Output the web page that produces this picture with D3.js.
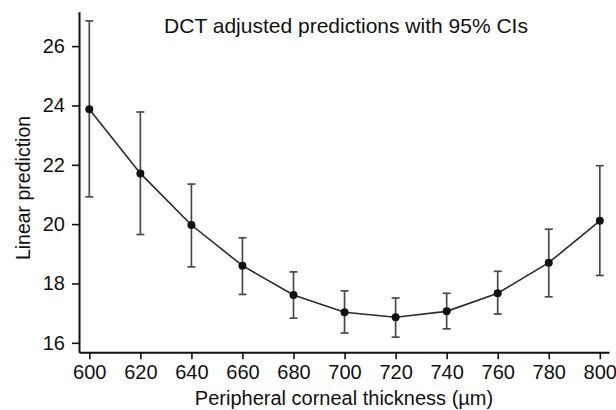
<!DOCTYPE html>
<html>
<head>
<meta charset="utf-8">
<script src="https://cdn.jsdelivr.net/npm/d3@7"></script>
<style>
html,body{margin:0;padding:0;background:#fff;}
svg{display:block;}
text{font-family:"Liberation Sans",Arial,sans-serif;fill:#111;}
</style>
</head>
<body>
<svg id="chart" width="616" height="410"></svg>
<script>
const thickness = [600, 620, 640, 660, 680, 700, 720, 740, 760, 780, 800];
const prediction = [23.87, 21.71, 19.97, 18.60, 17.61, 17.03, 16.86, 17.06, 17.67, 18.70, 20.11];
const ciLower = [20.92, 19.65, 18.56, 17.63, 16.83, 16.33, 16.19, 16.47, 16.97, 17.55, 18.27];
const ciUpper = [26.85, 23.78, 21.35, 19.54, 18.39, 17.75, 17.51, 17.67, 18.41, 19.83, 21.97];
const xTicks = [600, 620, 640, 660, 680, 700, 720, 740, 760, 780, 800];
const yTicks = [16, 18, 20, 22, 24, 26];
const titleText = "DCT adjusted predictions with 95% CIs";
const xLabel = "Peripheral corneal thickness (\u00b5m)";
const yLabel = "Linear prediction";

const data = thickness.map((t, i) => ({x: t, y: prediction[i], lo: ciLower[i], hi: ciUpper[i]}));

const svg = d3.select("#chart");
const mLeft = 79, mRight = 609, mTop = 11.7, mBottom = 352.3;

const x = d3.scaleLinear().domain([595.96, 803.6]).range([mLeft, mRight]);
const y = d3.scaleLinear().domain([15.68, 27.16]).range([mBottom, mTop]);

// axes
const xAxis = svg.append("g").attr("transform", `translate(0,${mBottom})`)
  .call(d3.axisBottom(x).tickValues(xTicks).tickSize(7).tickPadding(6).tickSizeOuter(0));
const yAxis = svg.append("g").attr("transform", `translate(${mLeft},0)`)
  .call(d3.axisLeft(y).tickValues(yTicks).tickSize(7).tickPadding(7).tickSizeOuter(0));
[xAxis, yAxis].forEach(g => {
  g.select(".domain").attr("stroke", "#111").attr("stroke-width", 2);
  g.selectAll(".tick line").attr("stroke", "#111").attr("stroke-width", 1.6);
  g.selectAll(".tick text").attr("fill", "#111").style("font-size", "20px")
    .style("font-family", "'Liberation Sans', Arial, sans-serif");
});

// error bars
const capW = 4;
const eb = svg.append("g").attr("stroke", "#4a4a4a").attr("stroke-width", 1.7).attr("fill", "none");
data.forEach(d => {
  eb.append("line").attr("x1", x(d.x)).attr("x2", x(d.x)).attr("y1", y(d.lo)).attr("y2", y(d.hi));
  eb.append("line").attr("x1", x(d.x) - capW).attr("x2", x(d.x) + capW).attr("y1", y(d.lo)).attr("y2", y(d.lo));
  eb.append("line").attr("x1", x(d.x) - capW).attr("x2", x(d.x) + capW).attr("y1", y(d.hi)).attr("y2", y(d.hi));
});

// line
svg.append("path").datum(data)
  .attr("fill", "none").attr("stroke", "#2a2a2a").attr("stroke-width", 1.6)
  .attr("d", d3.line().x(d => x(d.x)).y(d => y(d.y)));

// points
svg.append("g").selectAll("circle").data(data).join("circle")
  .attr("cx", d => x(d.x)).attr("cy", d => y(d.y)).attr("r", 4).attr("fill", "#111");

// title
svg.append("text").attr("x", 346).attr("y", 33).attr("text-anchor", "middle")
  .style("font-size", "21px").text(titleText);

// axis labels
svg.append("text").attr("x", (mLeft + mRight) / 2).attr("y", 405).attr("text-anchor", "middle")
  .style("font-size", "20px").text(xLabel);
svg.append("text").attr("transform", `translate(30,188) rotate(-90)`)
  .attr("text-anchor", "middle").style("font-size", "19.5px").text(yLabel);
</script>
</body>
</html>
